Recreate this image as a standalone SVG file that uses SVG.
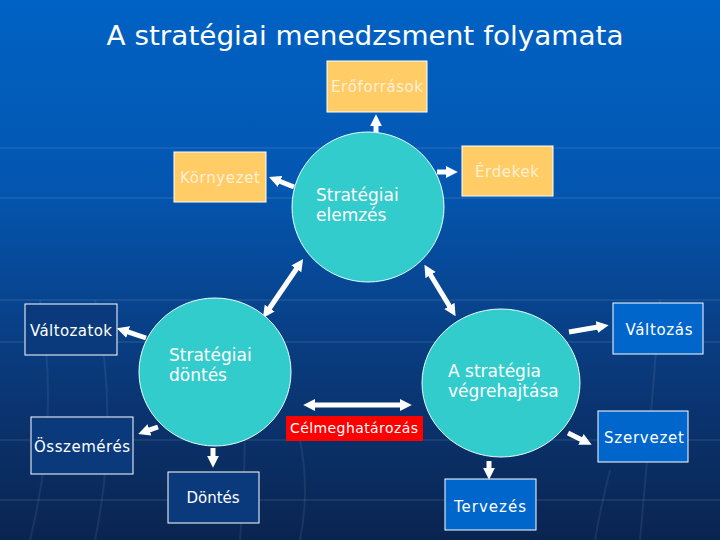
<svg xmlns="http://www.w3.org/2000/svg" width="720" height="540" viewBox="0 0 720 540">
<defs>
<linearGradient id="bg" x1="0" y1="0" x2="0" y2="1">
<stop offset="0" stop-color="#0062C4"/>
<stop offset="0.35" stop-color="#0456B0"/>
<stop offset="0.7" stop-color="#0A3878"/>
<stop offset="1" stop-color="#0A2450"/>
</linearGradient>
<marker id="ah" viewBox="0 0 10 10" refX="1" refY="5" markerWidth="2.4" markerHeight="2.6" orient="auto-start-reverse">
<path d="M0,0 L10,5 L0,10 z" fill="#FFFFFF"/>
</marker>
<style>
.title{font-family:"DejaVu Sans",Verdana,sans-serif;font-size:26px;fill:#FFFFFF}
.ct{font-family:"DejaVu Sans",Verdana,sans-serif;font-size:17px;fill:#FFFFFF}
.bt{font-family:"DejaVu Sans",Verdana,sans-serif;font-size:15px;fill:#FFFFFF}
.ot{font-family:"DejaVu Sans",Verdana,sans-serif;font-size:15px;fill:#FFF0D8}
.wt{font-family:"DejaVu Sans",Verdana,sans-serif;font-size:14px;fill:#FFFFFF}
.circ{fill:#33CCCC;stroke:#E8FFFF;stroke-width:1}
.orange{fill:#FFCC66;stroke:#FFFFFF;stroke-width:1}
.navy{fill:#0A3A7C;stroke:#FFFFFF;stroke-width:1}
.blue{fill:#0066CC;stroke:#FFFFFF;stroke-width:1}
.red{fill:#FF0000}
.arr{stroke:#FFFFFF;stroke-width:5;fill:none}
.grid{stroke:#FFFFFF;stroke-opacity:0.07;stroke-width:2;fill:none}
</style>
</defs>
<rect x="0" y="0" width="720" height="540" fill="url(#bg)"/>
<g id="background-grid">
<path class="grid" d="M0,148 H720 M0,198 H720 M0,300 H720 M0,342 H720 M0,440 H720 M0,500 H720"/>
<path class="grid" d="M40,300 Q60,420 30,540 M95,300 Q120,420 95,540 M240,300 Q250,420 240,540 M300,440 Q310,490 300,540 M610,470 Q600,510 595,540 M660,300 Q650,430 640,540"/>
</g>
<text class="title" x="365" y="45" text-anchor="middle" textLength="517" lengthAdjust="spacingAndGlyphs">A stratégiai menedzsment folyamata</text>

<g id="connectors">
<line class="arr" stroke-width="4" x1="376" y1="134" x2="376" y2="125" marker-end="url(#ah)"/>
<line class="arr" x1="294" y1="187" x2="279" y2="181" marker-end="url(#ah)"/>
<line class="arr" x1="437" y1="172" x2="447" y2="172" marker-end="url(#ah)"/>
<line class="arr" x1="297" y1="268" x2="269" y2="309" marker-start="url(#ah)" marker-end="url(#ah)"/>
<line class="arr" x1="430" y1="274" x2="450" y2="307" marker-start="url(#ah)" marker-end="url(#ah)"/>
<line class="arr" x1="146" y1="338" x2="127" y2="331.6" marker-end="url(#ah)"/>
<line class="arr" x1="158" y1="427" x2="148.4" y2="430.4" marker-end="url(#ah)"/>
<line class="arr" x1="213" y1="448" x2="213" y2="457" marker-end="url(#ah)"/>
<line class="arr" x1="314" y1="405" x2="401" y2="405" marker-start="url(#ah)" marker-end="url(#ah)"/>
<line class="arr" x1="569" y1="332" x2="598" y2="327" marker-end="url(#ah)"/>
<line class="arr" x1="568" y1="433" x2="582" y2="440" marker-end="url(#ah)"/>
<line class="arr" x1="489" y1="461" x2="489" y2="469" marker-end="url(#ah)"/>
</g>

<g id="eroforrasok">
<rect class="orange" x="327" y="61" width="100" height="51"/>
<text class="ot" x="377" y="92" text-anchor="middle" textLength="92">Erőforrások</text>
</g>
<g id="kornyezet">
<rect class="orange" x="174" y="152" width="92" height="50"/>
<text class="ot" x="220" y="183" text-anchor="middle" textLength="80">Környezet</text>
</g>
<g id="erdekek">
<rect class="orange" x="462" y="146" width="91" height="50"/>
<text class="ot" x="507" y="177" text-anchor="middle" textLength="64">Érdekek</text>
</g>
<g id="strategiai-elemzes">
<ellipse class="circ" cx="368" cy="207" rx="76" ry="75"/>
<text class="ct" x="316" y="201">Stratégiai</text>
<text class="ct" x="316" y="221">elemzés</text>
</g>
<g id="strategiai-dontes">
<ellipse class="circ" cx="215" cy="372" rx="76" ry="74"/>
<text class="ct" x="169" y="361">Stratégiai</text>
<text class="ct" x="169" y="381">döntés</text>
</g>
<g id="vegrehajtas">
<ellipse class="circ" cx="501" cy="383" rx="79" ry="74"/>
<text class="ct" x="448" y="377">A stratégia</text>
<text class="ct" x="448" y="397">végrehajtása</text>
</g>
<g id="valtozatok">
<rect class="navy" x="25" y="304" width="92" height="51"/>
<text class="bt" x="71" y="336" text-anchor="middle" textLength="82">Változatok</text>
</g>
<g id="osszemeres">
<rect class="navy" x="31" y="417" width="102" height="57"/>
<text class="bt" x="82" y="452" text-anchor="middle" textLength="96">Összemérés</text>
</g>
<g id="dontes">
<rect class="navy" x="168" y="472" width="91" height="51"/>
<text class="bt" x="213" y="503" text-anchor="middle">Döntés</text>
</g>
<g id="celmeghatarozas">
<rect class="red" x="286" y="416" width="137" height="25"/>
<text class="wt" x="354" y="433" text-anchor="middle" textLength="128">Célmeghatározás</text>
</g>
<g id="valtozas">
<rect class="blue" x="613" y="303" width="90" height="51"/>
<text class="bt" x="659" y="335" text-anchor="middle" textLength="67">Változás</text>
</g>
<g id="szervezet">
<rect class="blue" x="598" y="411" width="90" height="51"/>
<text class="bt" x="644" y="443" text-anchor="middle" textLength="80">Szervezet</text>
</g>
<g id="tervezes">
<rect class="blue" x="445" y="479" width="91" height="51"/>
<text class="bt" x="490" y="512" text-anchor="middle" textLength="72">Tervezés</text>
</g>
</svg>
